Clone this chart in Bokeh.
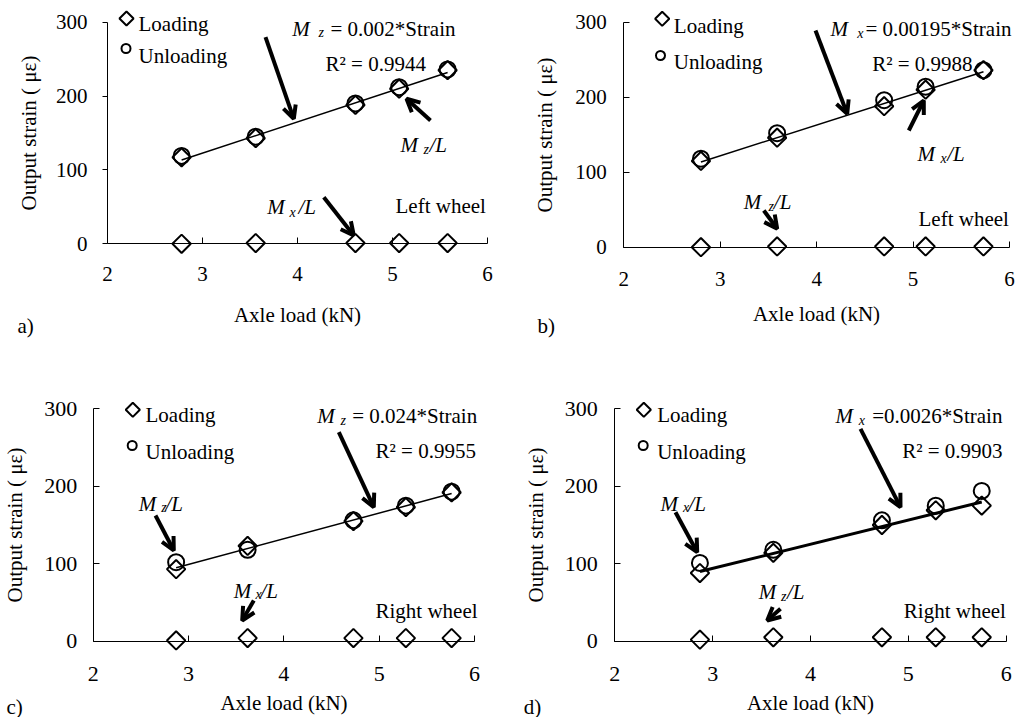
import numpy as np
from bokeh.plotting import figure
from bokeh.layouts import gridplot
from bokeh.models import Range1d, FixedTicker, Label, Arrow, OpenHead
from bokeh.embed import file_html
from bokeh.resources import INLINE

FONT = "Liberation Serif"

# ---------------- data ----------------
x_ticks = [2, 3, 4, 5, 6]
y_ticks = [0, 100, 200, 300]
x_title = "Axle load (kN)"
y_title = "Output strain ( με)"
series_names = ["Loading", "Unloading"]

# a) left wheel, Mz channel
a_load = [2.78, 3.56, 4.61, 5.07, 5.58]
a_loading = [117, 143, 188, 210, 235]
a_unloading = [119, 145, 190, 212, 236]
a_cross = [0, 1, 1, 1, 1]

# b) left wheel, Mx channel
b_load = [2.80, 3.59, 4.70, 5.13, 5.73]
b_loading = [115, 146, 188, 210, 236]
b_unloading = [118, 152, 196, 214, 236]
b_cross = [0, 1, 1, 1, 1]

# c) right wheel, Mz channel
c_load = [2.87, 3.62, 4.73, 5.28, 5.76]
c_loading = [93, 123, 155, 173, 192]
c_unloading = [102, 118, 156, 175, 193]
c_cross = [1, 4, 4, 4, 4]

# d) right wheel, Mx channel
d_load = [2.87, 3.62, 4.73, 5.28, 5.75]
d_loading = [88, 114, 150, 169, 175]
d_unloading = [101, 118, 156, 175, 194]
d_cross = [2, 5, 5, 5, 5]

panel_tags = ["a)", "b)", "c)", "d)"]
wheel_names = ["Left wheel", "Left wheel", "Right wheel", "Right wheel"]
eq_subs = ["z", "x", "z", "x"]
eq_texts = ["= 0.002*Strain", "= 0.00195*Strain", "= 0.024*Strain", "=0.0026*Strain"]
r2_texts = ["R² = 0.9944", "R² = 0.9988", "R² = 0.9955", "R² = 0.9903"]
main_subs = ["z", "x", "z", "x"]
cross_subs = ["x", "z", "x", "z"]

# ---------------- layout (page pixels) ----------------
panels = [
    dict(x=a_load, load=a_loading, unload=a_unloading, cross=a_cross,
         fig=(0, 0, 510, 360), map=(107, 487, 243.3, 21.7),
         ytout=5, ytin=0, ystd=15, yastd=12, xstd=23, xastd=19, tfs=21, fitw=1.5,
         eq=(291.7, 318, 330, 28.3, 31.5), r2=(325, 63.3),
         mainlab=(400, 423, 429, 144, 149), crosslab=(266.7, 289, 298, 206.7, 212),
         wheel=(395, 205), leg=(126, 18, 125.5, 48, 138, 23, 55), tag=(17, 325),
         arrows=[(265, 36.7, 293.3, 118.3), (430, 120, 406, 98.3), (323.3, 196.7, 353.3, 235)]),
    dict(x=b_load, load=b_loading, unload=b_unloading, cross=b_cross,
         fig=(510, 0, 509, 360), map=(623.3, 1009, 246.7, 21.7),
         ytout=0, ytin=6, ystd=17, yastd=15, xstd=25, xastd=12, tfs=21, fitw=1.5,
         eq=(830, 856.7, 865, 28.3, 33), r2=(871.7, 63.3),
         mainlab=(917, 940, 946.7, 153.3, 158), crosslab=(743.3, 768, 773.3, 201.7, 206),
         wheel=(918, 218.3), leg=(661.7, 18.3, 660, 55, 673.3, 25, 61.7), tag=(537, 325),
         arrows=[(815, 30, 846.7, 113.3), (908.3, 130, 923.3, 100), (763.3, 210, 776.7, 228.3)]),
    dict(x=c_load, load=c_loading, unload=c_unloading, cross=c_cross,
         fig=(0, 360, 510, 357), map=(92.7, 474, 640.7, 408.3),
         ytout=0, ytin=6, ystd=16, yastd=15, xstd=26, xastd=6, tfs=22, fitw=1.5,
         eq=(316.7, 340, 351.7, 415, 420), r2=(375, 450),
         mainlab=(138.3, 160.7, 165, 503.3, 507), crosslab=(233.3, 255, 260, 590, 594),
         wheel=(375, 610), leg=(132.3, 409.3, 131.7, 445, 145, 414.3, 451.7), tag=(6, 706),
         arrows=[(155, 515, 173.3, 550), (253.3, 600, 241.7, 620), (338.3, 431.7, 373.3, 506.7)]),
    dict(x=d_load, load=d_loading, unload=d_unloading, cross=d_cross,
         fig=(510, 360, 509, 357), map=(614.3, 1005.7, 640.7, 408.3),
         ytout=0, ytin=6, ystd=17, yastd=14, xstd=26, xastd=6, tfs=22, fitw=3,
         eq=(835, 858.3, 871.7, 415, 420), r2=(901.7, 450),
         mainlab=(660, 682.5, 688, 503.3, 507), crosslab=(758.3, 780.5, 786.5, 591.7, 596),
         wheel=(903.3, 610), leg=(643.3, 409.3, 642.7, 445, 656.7, 414.3, 451.7), tag=(523.3, 706),
         arrows=[(675, 511.7, 696.7, 551.7), (780, 608.3, 766.7, 620), (860, 428.3, 900, 506.7)]),
]


def make_panel(i, P):
    fx, fy, fw, fh = P["fig"]
    px2, px6, py0, py300 = P["map"]
    pxu = (px6 - px2) / (x_ticks[-1] - x_ticks[0])
    pyu = (py0 - py300) / (y_ticks[-1] - y_ticks[0])

    def X(px):
        return x_ticks[0] + (px - px2) / pxu

    def Y(py):
        return y_ticks[0] + (py0 - py) / pyu

    p = figure(width=fw, height=fh,
               x_range=Range1d(X(fx), X(fx + fw)), y_range=Range1d(Y(fy + fh), Y(fy)),
               min_border=0, min_border_left=0, min_border_right=0,
               min_border_top=0, min_border_bottom=0,
               toolbar_location=None, output_backend="svg")
    p.xgrid.visible = False
    p.ygrid.visible = False
    p.outline_line_color = None
    p.background_fill_color = "white"
    p.border_fill_color = "white"

    # y axis, placed at x = 2
    ya = p.yaxis[0]
    ya.fixed_location = x_ticks[0]
    ya.ticker = FixedTicker(ticks=y_ticks)
    ya.bounds = (y_ticks[0], y_ticks[-1])
    ya.axis_line_color = "black"
    ya.major_tick_line_color = "black"
    ya.major_tick_out = P["ytout"]
    ya.major_tick_in = P["ytin"]
    ya.minor_tick_line_color = None
    ya.major_label_standoff = P["ystd"]
    ya.major_label_text_font = FONT
    ya.major_label_text_font_size = f"{P['tfs']}px"
    ya.major_label_text_color = "black"
    ya.axis_label = y_title
    ya.axis_label_text_font = FONT
    ya.axis_label_text_font_size = "21px"
    ya.axis_label_text_font_style = "normal"
    ya.axis_label_text_color = "black"
    ya.axis_label_standoff = P["yastd"]

    # x axis, placed at y = 0
    xa = p.xaxis[0]
    xa.fixed_location = y_ticks[0]
    xa.ticker = FixedTicker(ticks=x_ticks)
    xa.bounds = (x_ticks[0], x_ticks[-1])
    xa.axis_line_color = "black"
    xa.major_tick_line_color = "black"
    xa.major_tick_in = 6
    xa.major_tick_out = 0
    xa.minor_tick_line_color = None
    xa.major_label_standoff = P["xstd"]
    xa.major_label_text_font = FONT
    xa.major_label_text_font_size = f"{P['tfs']}px"
    xa.major_label_text_color = "black"
    xa.axis_label = x_title
    xa.axis_label_text_font = FONT
    xa.axis_label_text_font_size = "21px"
    xa.axis_label_text_font_style = "normal"
    xa.axis_label_text_color = "black"
    xa.axis_label_standoff = P["xastd"]

    # trend line fitted to the loading data
    k, b = np.polyfit(P["x"], P["load"], 1)
    xs = [P["x"][0], P["x"][-1]]
    p.line(xs, [k * v + b for v in xs], line_color="black", line_width=P["fitw"])

    # markers
    p.scatter(P["x"], P["load"], marker="square", angle=np.pi / 4, size=13,
              fill_color=None, line_color="black", line_width=2)
    p.scatter(P["x"], P["cross"], marker="square", angle=np.pi / 4, size=13,
              fill_color=None, line_color="black", line_width=2)
    p.scatter(P["x"], P["unload"], marker="circle", size=16,
              fill_color=None, line_color="black", line_width=2)

    # legend (manual)
    dxl, dyl, cxl, cyl, tx, ty1, ty2 = P["leg"]
    p.scatter([X(dxl)], [Y(dyl)], marker="square", angle=np.pi / 4, size=10,
              fill_color=None, line_color="black", line_width=2)
    p.scatter([X(cxl)], [Y(cyl)], marker="circle", size=9,
              fill_color=None, line_color="black", line_width=2)

    def lab(text, px, py, size=21, style="normal"):
        p.add_layout(Label(x=X(px), y=Y(py), text=text, text_font=FONT,
                           text_font_size=f"{size}px", text_font_style=style,
                           text_color="black", text_align="left",
                           text_baseline="alphabetic"))

    lab(series_names[0], tx, ty1)
    lab(series_names[1], tx, ty2)

    # equation
    mx, sx, ex, by, sby = P["eq"]
    lab("M", mx, by, style="italic")
    lab(eq_subs[i], sx, sby, size=14, style="italic")
    lab(eq_texts[i], ex, by)
    lab(r2_texts[i], *P["r2"])

    # channel annotations
    mx, sx, lx, by, sby = P["mainlab"]
    lab("M", mx, by, style="italic")
    lab(main_subs[i], sx, sby, size=14, style="italic")
    lab("/L", lx, by, style="italic")
    mx, sx, lx, by, sby = P["crosslab"]
    lab("M", mx, by, style="italic")
    lab(cross_subs[i], sx, sby, size=14, style="italic")
    lab("/L", lx, by, style="italic")

    lab(wheel_names[i], *P["wheel"])
    lab(panel_tags[i], *P["tag"])

    for (tx0, ty0, hx, hy) in P["arrows"]:
        p.add_layout(Arrow(end=OpenHead(size=13, line_width=4, line_color="black"),
                           x_start=X(tx0), y_start=Y(ty0), x_end=X(hx), y_end=Y(hy),
                           line_width=4, line_color="black"))
    return p


figs = [make_panel(i, P) for i, P in enumerate(panels)]
grid = gridplot([[figs[0], figs[1]], [figs[2], figs[3]]], toolbar_location=None)

open("out.html", "w").write(file_html(grid, INLINE))
